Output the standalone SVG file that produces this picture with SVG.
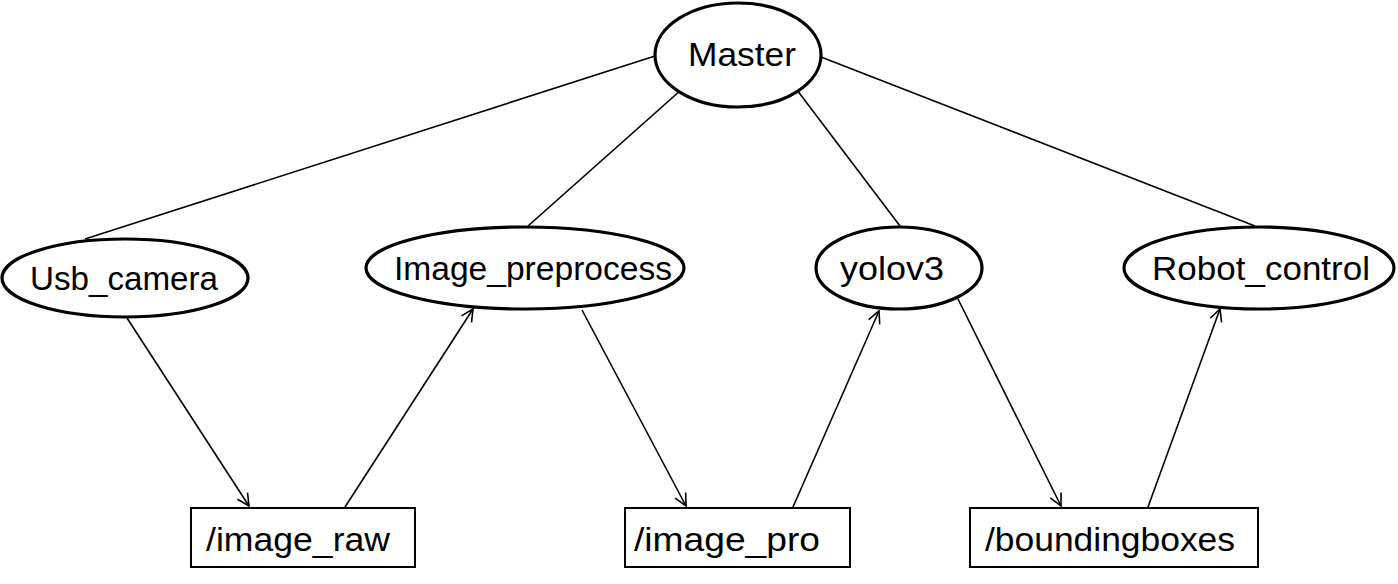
<svg xmlns="http://www.w3.org/2000/svg" width="1398" height="584" viewBox="0 0 1398 584">
<defs>
<marker id="arr" viewBox="0 0 14 14" refX="13" refY="7" markerWidth="14" markerHeight="14" markerUnits="userSpaceOnUse" orient="auto">
<path d="M1,1 L13,7 L1,13" fill="none" stroke="#000" stroke-width="1.6"/>
</marker>
<style>
.node ellipse{fill:#fff;stroke:#000;stroke-width:3.2}
.node rect{fill:#fff;stroke:#000;stroke-width:2}
.lbl{font-family:"Liberation Sans","DejaVu Sans",sans-serif;font-size:33px;fill:#000;text-anchor:middle}
.edge{stroke:#000;stroke-width:1.6;fill:none}
.arrow{marker-end:url(#arr)}
</style>
</defs>
<rect width="1398" height="584" fill="#fff"/>
<g id="connectors">
<line class="edge" x1="655" y1="56" x2="85" y2="239"/>
<line class="edge" x1="681" y1="90" x2="528" y2="226"/>
<line class="edge" x1="797" y1="90" x2="900" y2="226"/>
<line class="edge" x1="821" y1="57" x2="1255" y2="226"/>
<line class="edge arrow" x1="127" y1="318" x2="249" y2="506"/>
<line class="edge arrow" x1="345" y1="507" x2="473" y2="309"/>
<line class="edge arrow" x1="582" y1="310" x2="686" y2="506"/>
<line class="edge arrow" x1="793" y1="507" x2="879" y2="311"/>
<line class="edge arrow" x1="958" y1="299" x2="1061" y2="506"/>
<line class="edge arrow" x1="1148" y1="507" x2="1220" y2="309"/>
</g>
<g id="master" class="node">
<ellipse cx="738" cy="55" rx="83" ry="52"/>
<text class="lbl" x="742" y="66" textLength="108" lengthAdjust="spacingAndGlyphs">Master</text>
</g>
<g id="usb_camera" class="node">
<ellipse cx="125" cy="278" rx="123" ry="39"/>
<text class="lbl" x="124" y="290" textLength="188" lengthAdjust="spacingAndGlyphs">Usb_camera</text>
</g>
<g id="image_preprocess" class="node">
<ellipse cx="525" cy="268" rx="159" ry="41"/>
<text class="lbl" x="533" y="280" textLength="278" lengthAdjust="spacingAndGlyphs">Image_preprocess</text>
</g>
<g id="yolov3" class="node">
<ellipse cx="899" cy="268" rx="83" ry="41"/>
<text class="lbl" x="892" y="280" textLength="104" lengthAdjust="spacingAndGlyphs">yolov3</text>
</g>
<g id="robot_control" class="node">
<ellipse cx="1259" cy="268" rx="135" ry="41"/>
<text class="lbl" x="1261" y="280" textLength="218" lengthAdjust="spacingAndGlyphs">Robot_control</text>
</g>
<g id="image_raw" class="node">
<rect x="191" y="508" width="224" height="59"/>
<text class="lbl" x="298" y="551" textLength="184" lengthAdjust="spacingAndGlyphs">/image_raw</text>
</g>
<g id="image_pro" class="node">
<rect x="625" y="508" width="225" height="59"/>
<text class="lbl" x="727" y="551" textLength="186" lengthAdjust="spacingAndGlyphs">/image_pro</text>
</g>
<g id="boundingboxes" class="node">
<rect x="970" y="508" width="288" height="59"/>
<text class="lbl" x="1110" y="551" textLength="250" lengthAdjust="spacingAndGlyphs">/boundingboxes</text>
</g>
</svg>
